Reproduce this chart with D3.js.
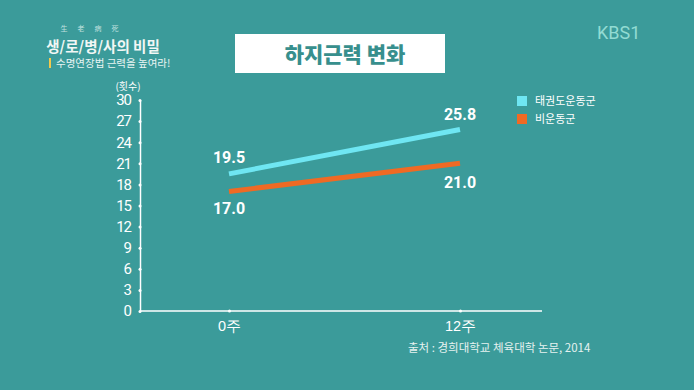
<!DOCTYPE html>
<html><head><meta charset="utf-8">
<script src="https://cdn.jsdelivr.net/npm/d3@7"></script>
<style>
html,body{margin:0;padding:0;background:#3b9b9a;}
svg{display:block;font-family:"Noto Sans CJK KR","Noto Sans",sans-serif;}
</style></head><body>
<svg id="c" width="694" height="390"></svg>
<script>
const categories = ["0주", "12주"];
const seriesNames = ["태권도운동군", "비운동군"];
const taekwondo = [19.5, 25.8];
const nonExercise = [17.0, 21.0];
const yTicks = [0, 3, 6, 9, 12, 15, 18, 21, 24, 27, 30];
const colors = ["#6fe6f2", "#ef6a24"];

const svg = d3.select("#c");
svg.append("rect").attr("width",694).attr("height",390).attr("fill","#3b9b9a");

// program logo
["生","老","病","死"].forEach((c,i)=>{
  svg.append("text").attr("x",64+i*17).attr("y",31).attr("text-anchor","middle")
    .attr("font-size",7).attr("fill","#d8eeea").attr("opacity",0.85).text(c);
});
svg.append("text").attr("x",103).attr("y",52).attr("text-anchor","middle")
  .attr("font-size",14.5).attr("font-weight","bold").attr("fill","#f2f7f5").text("생/로/병/사의 비밀");
svg.append("rect").attr("x",49).attr("y",58).attr("width",2).attr("height",10).attr("fill","#f2c94c");
svg.append("text").attr("x",56).attr("y",67).attr("font-size",10.5).attr("fill","#e8f4f2").text("수명연장법 근력을 높여라!");

// KBS1
svg.append("text").attr("x",597).attr("y",39).attr("font-size",18).attr("font-family","Roboto, sans-serif")
  .attr("fill","#92dbd3").text("KBS1");

// title box
svg.append("rect").attr("x",235).attr("y",34).attr("width",210).attr("height",39).attr("fill","#ffffff");
svg.append("text").attr("x",345).attr("y",62).attr("text-anchor","middle").attr("font-size",21)
  .attr("font-weight","900").attr("fill","#378f8d").text("하지근력 변화");

const x = d3.scalePoint().domain(categories).range([229, 460]);
const y = d3.scaleLinear().domain([0, 30]).range([311, 100]);

// axes
const yAxis = d3.axisLeft(y).tickValues(yTicks).tickSize(0).tickPadding(9);
const gy = svg.append("g").attr("transform","translate(140,0)").call(yAxis);
gy.select(".domain").attr("stroke","#ffffff").attr("stroke-width",1.5);
gy.selectAll("text").attr("fill","#ffffff").attr("font-size",15).attr("font-family","Roboto, sans-serif")
  .attr("letter-spacing","-1");
gy.selectAll(".tick").append("circle").attr("r",1.5).attr("fill","#ffffff");

svg.append("line").attr("x1",140).attr("x2",542).attr("y1",y(0)).attr("y2",y(0))
  .attr("stroke","#ffffff").attr("stroke-width",1.5);
const xAxis = d3.axisBottom(x).tickSize(0).tickPadding(7);
const gx = svg.append("g").attr("transform",`translate(0,${y(0)})`).call(xAxis);
gx.select(".domain").remove();
gx.selectAll("text").attr("fill","#ffffff").attr("font-size",14.5).attr("dy","0.9em");
gx.selectAll(".tick").append("circle").attr("r",1.5).attr("fill","#ffffff");

svg.append("text").attr("x",128).attr("y",90).attr("text-anchor","middle").attr("font-size",10)
  .attr("fill","#ffffff").text("(횟수)");

// lines
const line = d3.line().x((d,i)=>x(categories[i])).y(d=>y(d));
[taekwondo, nonExercise].forEach((s,k)=>{
  svg.append("path").datum(s).attr("d",line).attr("fill","none")
    .attr("stroke",colors[k]).attr("stroke-width",5).attr("stroke-linecap","butt");
});

// value labels
const lbl = (xv, yv, t) => svg.append("text").attr("x",xv).attr("y",yv).attr("text-anchor","middle")
  .attr("font-size",16).attr("font-weight","bold").attr("font-family","Roboto, sans-serif")
  .attr("fill","#ffffff").text(t);
lbl(x(categories[0]), y(taekwondo[0]) - 11, taekwondo[0].toFixed(1));
lbl(x(categories[1]), y(taekwondo[1]) - 10, taekwondo[1].toFixed(1));
lbl(x(categories[0]), y(nonExercise[0]) + 23, nonExercise[0].toFixed(1));
lbl(x(categories[1]), y(nonExercise[1]) + 25, nonExercise[1].toFixed(1));

// legend
seriesNames.forEach((n,i)=>{
  svg.append("rect").attr("x",517).attr("y",96+i*18).attr("width",10).attr("height",10).attr("fill",colors[i]);
  svg.append("text").attr("x",535).attr("y",105+i*18).attr("font-size",11).attr("fill","#ffffff").text(n);
});

// source
svg.append("text").attr("x",408).attr("y",352).attr("font-size",11.5).attr("fill","#e6f2f0")
  .text("출처 : 경희대학교 체육대학 논문, 2014");
</script>
</body></html>
